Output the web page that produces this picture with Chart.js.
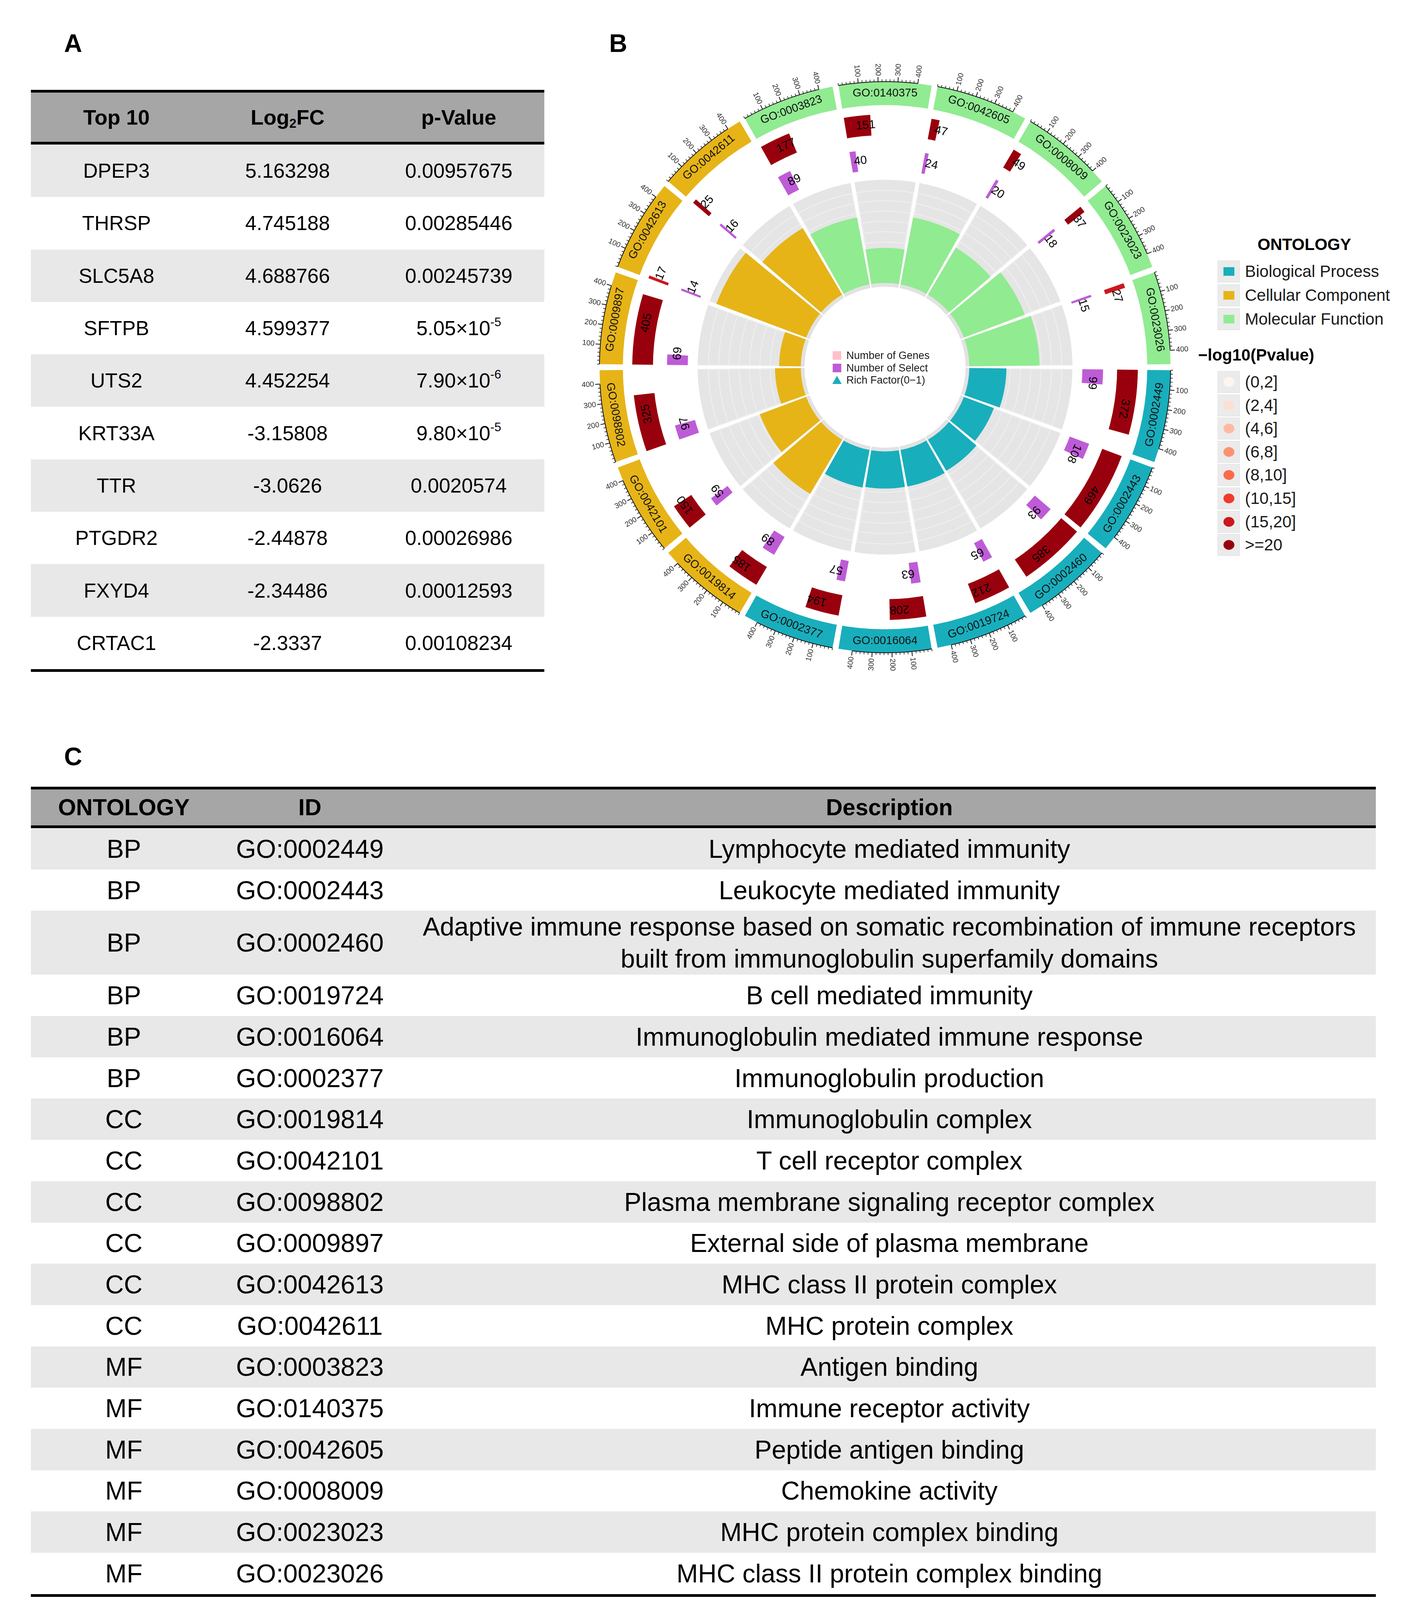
<!DOCTYPE html>
<html>
<head>
<meta charset="utf-8">
<script src="https://cdn.jsdelivr.net/npm/chart.js@4.4.1/dist/chart.umd.min.js"></script>
<style>
  html,body{margin:0;padding:0;background:#fff;}
  body{width:3611px;height:4162px;position:relative;overflow:hidden;font-family:"Liberation Sans",Arial,Helvetica,sans-serif;color:#000;}
  .abs{position:absolute;}
  .panel{position:absolute;font-weight:bold;font-size:64px;line-height:64px;}
  .rule{height:7px;background:#000;}
  .row{display:flex;align-items:center;}
  .row>div{flex:0 0 auto;text-align:center;}
  .tA{position:absolute;left:79px;top:230px;width:1314px;}
  .tA .hdr{font-weight:bold;font-size:54px;background:#A6A6A6;height:126px;}
  .tA .body{font-size:52px;height:134.3px;}
  .tC{position:absolute;left:79px;top:2014px;width:3442px;}
  .tC .hdr{font-weight:bold;font-size:59px;background:#A6A6A6;height:92px;}
  .tC .body{font-size:66px;}
  .gray{background:#E8E8E8;}
  sup{font-size:0.6em;vertical-align:0.75em;line-height:0;}
  sub{font-size:0.6em;vertical-align:-0.25em;line-height:0;}
  .lg{position:absolute;white-space:nowrap;z-index:5;}
  .key{position:absolute;width:57px;height:56px;background:#EBEBEB;border:1px solid #DEDEDE;box-sizing:border-box;z-index:5;}
  .key span{position:absolute;left:50%;top:50%;transform:translate(-50%,-50%);}
</style>
</head>
<body>
<div class="panel" style="left:164px;top:79px;">A</div>
<div class="panel" style="left:1559px;top:79px;">B</div>
<div class="panel" style="left:164px;top:1905px;">C</div>

<div class="tA" id="tableA"></div>
<div class="tC" id="tableC"></div>

<div class="abs" style="left:1415px;top:90px;width:1700px;height:1700px;">
  <canvas id="circos" width="1700" height="1700"></canvas>
</div>

<div id="legends"></div>

<script>
// ---------------- DATA ----------------
const goIds = ['GO:0002449','GO:0002443','GO:0002460','GO:0019724','GO:0016064','GO:0002377',
               'GO:0019814','GO:0042101','GO:0098802','GO:0009897','GO:0042613','GO:0042611',
               'GO:0003823','GO:0140375','GO:0042605','GO:0008009','GO:0023023','GO:0023026'];
const ontology = ['BP','BP','BP','BP','BP','BP','CC','CC','CC','CC','CC','CC','MF','MF','MF','MF','MF','MF'];
const geneCounts   = [372,469,385,212,208,194,185,150,325,405,17,25,177,151,47,49,37,27];
const selectCounts = [99,108,93,65,63,57,89,59,97,69,14,16,89,40,24,20,18,15];
const richFactor   = [0.36,0.31,0.35,0.36,0.36,0.37,0.61,0.48,0.25,0.21,0.93,0.75,0.66,0.34,0.66,0.53,0.63,0.68];
const negLog10P    = [45,44,40,38,37,36,40,30,28,24,18,21,45,26,22,21,20.5,19];
const axisMajorTicks = [100,200,300,400];
const descriptions = ['Lymphocyte mediated immunity','Leukocyte mediated immunity',
  'Adaptive immune response based on somatic recombination of immune receptors<br>built from immunoglobulin superfamily domains',
  'B cell mediated immunity','Immunoglobulin mediated immune response','Immunoglobulin production',
  'Immunoglobulin complex','T cell receptor complex','Plasma membrane signaling receptor complex',
  'External side of plasma membrane','MHC class II protein complex','MHC protein complex',
  'Antigen binding','Immune receptor activity','Peptide antigen binding','Chemokine activity',
  'MHC protein complex binding','MHC class II protein complex binding'];
const topGenes = ['DPEP3','THRSP','SLC5A8','SFTPB','UTS2','KRT33A','TTR','PTGDR2','FXYD4','CRTAC1'];
const log2FC = ['5.163298','4.745188','4.688766','4.599377','4.452254','-3.15808','-3.0626','-2.44878','-2.34486','-2.3337'];
const pValues = ['0.00957675','0.00285446','0.00245739','5.05×10<sup>-5</sup>','7.90×10<sup>-6</sup>',
                 '9.80×10<sup>-5</sup>','0.0020574','0.00026986','0.00012593','0.00108234'];
const ontologyNames = ['Biological Process','Cellular Component','Molecular Function'];
const pBinLabels = ['(0,2]','(2,4]','(4,6]','(6,8]','(8,10]','(10,15]','(15,20]','>=20'];
const pBreaks = [2,4,6,8,10,15,20];

// ---------------- STYLE ----------------
const ontColor = {BP:'#19AEBC', CC:'#E6B417', MF:'#91EB91'};
const pColors = ['#FFF5F0','#FEE0D2','#FCBBA1','#FC9272','#FB6A4A','#EF3B2C','#CB181D','#99000D'];
const SELECT_COLOR = '#BD5CD6';
const TRANSPARENT = 'rgba(0,0,0,0)';
const FONT = '"Liberation Sans", Arial, sans-serif';

// ---------------- TABLES ----------------
(function(){
  const w = [438,438,438];
  let h = '<div class="rule"></div><div class="row hdr">' +
    ['Top 10','Log<sub>2</sub>FC','p-Value'].map((t,i)=>`<div style="width:${w[i]}px">${t}</div>`).join('') +
    '</div><div class="rule"></div>';
  topGenes.forEach((g,r)=>{
    h += `<div class="row body ${r%2===0?'gray':''}">` +
      [g,log2FC[r],pValues[r]].map((t,i)=>`<div style="width:${w[i]}px">${t}</div>`).join('') + '</div>';
  });
  h += '<div class="rule"></div>';
  document.getElementById('tableA').innerHTML = h;

  const wc = [476,476,2490];
  let c = '<div class="rule"></div><div class="row hdr">' +
    ['ONTOLOGY','ID','Description'].map((t,i)=>`<div style="width:${wc[i]}px">${t}</div>`).join('') +
    '</div><div class="rule"></div>';
  goIds.forEach((id,r)=>{
    const tall = descriptions[r].indexOf('<br>')>=0;
    c += `<div class="row body ${r%2===0?'gray':''}" style="height:${tall?164:105.7}px;line-height:${tall?82:70}px">` +
      [ontology[r],id,descriptions[r]].map((t,i)=>`<div style="width:${wc[i]}px">${t}</div>`).join('') + '</div>';
  });
  c += '<div class="rule"></div>';
  document.getElementById('tableC').innerHTML = c;
})();

// ---------------- LEGENDS (HTML) ----------------
(function(){
  let h = '';
  const cItems = [['Number of Genes','sq','#FFC0CB'],['Number of Select','sq',SELECT_COLOR],['Rich Factor(0\u22121)','tri',ontColor.BP]];
  cItems.forEach((it,k)=>{
    const cy = 910 + k*31.5;
    const sym = it[1]==='sq'
      ? `<span style="position:absolute;left:0;top:5px;width:22px;height:22px;background:${it[2]}"></span>`
      : `<span style="position:absolute;left:-1px;top:5px;width:0;height:0;border-left:12px solid transparent;border-right:12px solid transparent;border-bottom:21px solid ${it[2]}"></span>`;
    h += `<div class="lg" style="left:2131px;top:${cy-16}px;height:32px;line-height:32px;font-size:27px;color:#1a1a1a;">${sym}<span style="margin-left:35px">${it[0]}</span></div>`;
  });
  const LX = 3116;
  h += `<div class="lg" style="left:${LX+222}px;top:${626-24}px;transform:translateX(-50%);font-weight:bold;font-size:42px;line-height:48px;">ONTOLOGY</div>`;
  ['BP','CC','MF'].forEach((o,k)=>{
    const cy = 695 + k*61;
    h += `<div class="key" style="left:${LX}px;top:${cy-28}px;"><span style="width:28px;height:22px;background:${ontColor[o]}"></span></div>`;
    h += `<div class="lg" style="left:${LX+70}px;top:${cy-24}px;font-size:42px;line-height:48px;color:#1a1a1a;">${ontologyNames[k]}</div>`;
  });
  h += `<div class="lg" style="left:${LX-50}px;top:${909-24}px;font-weight:bold;font-size:42px;line-height:48px;">\u2212log10(Pvalue)</div>`;
  pBinLabels.forEach((t,k)=>{
    const cy = 978 + k*59.6;
    h += `<div class="key" style="left:${LX}px;top:${cy-28}px;"><span style="width:28px;height:25px;border-radius:50%;background:${pColors[k]}"></span></div>`;
    h += `<div class="lg" style="left:${LX+70}px;top:${cy-24}px;font-size:42px;line-height:48px;color:#1a1a1a;">${t}</div>`;
  });
  document.getElementById('legends').innerHTML = h;
})();

// ---------------- CIRCOS (Chart.js polarArea layers) ----------------
const N = goIds.length;
const SECTOR = 360 / N;
const GAP = 1.2;
const XMAX = 470;
const DPU = (SECTOR - GAP) / XMAX;   // degrees per count unit
const R = {ringOut:731, ringIn:671, t2Out:647, t2In:594, t3Out:558, t3In:505, t4Out:480, t4In:216, coreIn:206};
const R_SCALE_MAX = 850;
const LABEL_OFFSET = 45;

function pColor(v){ let i=0; while(i<pBreaks.length && v>pBreaks[i]) i++; return pColors[i]; }

function sectorLayer(valueFn, colorFn, extra){
  const data=[], angle=[], bg=[], bc=[];
  for(let i=0;i<N;i++){
    data.push(0); angle.push(GAP/2); bg.push(TRANSPARENT); bc.push(TRANSPARENT);
    data.push(valueFn(i)); angle.push(SECTOR-GAP); bg.push(colorFn(i)); bc.push(extra && extra.line ? extra.line : TRANSPARENT);
    data.push(0); angle.push(GAP/2); bg.push(TRANSPARENT); bc.push(TRANSPARENT);
  }
  return {data, angle, backgroundColor:bg, borderColor:bc, borderWidth: extra && extra.line ? 2 : 0, borderAlign:'inner'};
}
function countLayer(counts, outer, colorFn){
  const data=[], angle=[], bg=[];
  for(let i=0;i<N;i++){
    const a = counts[i]*DPU;
    data.push(0); angle.push(GAP/2); bg.push(TRANSPARENT);
    data.push(outer); angle.push(a); bg.push(colorFn(i));
    data.push(0); angle.push(SECTOR-GAP/2-a); bg.push(TRANSPARENT);
  }
  return {data, angle, backgroundColor:bg, borderWidth:0};
}
function disk(r, color){ return {data:[r], angle:[360], backgroundColor:[color], borderWidth:0}; }

const layers = [];   // bottom -> top
layers.push(sectorLayer(()=>R.ringOut, i=>ontColor[ontology[i]]));
layers.push(disk(R.ringIn,'#ffffff'));
layers.push(countLayer(geneCounts, R.t2Out, i=>pColor(negLog10P[i])));
layers.push(disk(R.t2In,'#ffffff'));
layers.push(countLayer(selectCounts, R.t3Out, ()=>SELECT_COLOR));
layers.push(disk(R.t3In,'#ffffff'));
layers.push(sectorLayer(()=>R.t4Out, ()=>'#E5E5E5'));
for(let k=1;k<=9;k++){
  layers.push(sectorLayer(()=>R.t4In + k/10*(R.t4Out-R.t4In), ()=>TRANSPARENT, {line:'#EFEFEF'}));
}
layers.push(sectorLayer(i=>R.t4In + richFactor[i]*(R.t4Out-R.t4In), i=>ontColor[ontology[i]]));
layers.push(sectorLayer(()=>R.t4In, ()=>'#E2E2E2'));
layers.push(disk(R.coreIn,'#ffffff'));
const datasets = layers.slice().reverse();   // dataset 0 is drawn on top

const labelPlugin = {
  id:'circosLabels',
  afterDatasetsDraw(chart){
    const sc = chart.scales.r, ctx = chart.ctx;
    const cx = sc.xCenter, cy = sc.yCenter;
    const d = v => sc.getDistanceFromCenterForValue(v);
    const rad = a => a*Math.PI/180;
    const theta = (i,u) => 90 + i*SECTOR + GAP/2 + u*DPU;   // degrees, clockwise from north
    const pt = (th, r) => ({x: cx + r*Math.cos(rad(th-90)), y: cy + r*Math.sin(rad(th-90))});
    ctx.save();
    // sector id labels
    ctx.fillStyle = '#111';
    ctx.font = `29px ${FONT}`;
    ctx.textAlign = 'center'; ctx.textBaseline = 'middle';
    for(let i=0;i<N;i++){
      const th = 90 + i*SECTOR + SECTOR/2;
      const p = pt(th, d((R.ringOut+R.ringIn)/2));
      const m = ((th%360)+360)%360;
      ctx.save(); ctx.translate(p.x,p.y);
      ctx.rotate(rad(m>90 && m<270 ? th+180 : th));
      ctx.fillText(goIds[i],0,0); ctx.restore();
    }
    // count labels
    ctx.font = `30px ${FONT}`; ctx.fillStyle = '#000';
    const countLabels = (counts, rMid) => {
      for(let i=0;i<N;i++){
        const th = theta(i, counts[i]/2 + LABEL_OFFSET);
        const p = pt(th, d(rMid));
        ctx.save(); ctx.translate(p.x,p.y); ctx.rotate(rad(th));
        ctx.fillText(String(counts[i]),0,0); ctx.restore();
      }
    };
    countLabels(geneCounts, (R.t2Out+R.t2In)/2);
    countLabels(selectCounts, (R.t3Out+R.t3In)/2);
    // axes on the outer ring
    const rAx = d(R.ringOut);
    ctx.strokeStyle = '#111'; ctx.lineWidth = 2;
    ctx.font = `19px ${FONT}`; ctx.fillStyle = '#2b2b2b';
    const maxTick = axisMajorTicks[axisMajorTicks.length-1];
    for(let i=0;i<N;i++){
      ctx.beginPath();
      ctx.lineWidth = 2;
      ctx.arc(cx, cy, rAx, rad(theta(i,0)-90), rad(theta(i,maxTick)-90));
      ctx.stroke();
      for(let u=0; u<=maxTick; u+=20){
        const major = axisMajorTicks.includes(u);
        const th = theta(i,u);
        const a = pt(th, rAx), b = pt(th, rAx + (major?12:6));
        ctx.beginPath(); ctx.moveTo(a.x,a.y); ctx.lineTo(b.x,b.y);
        ctx.lineWidth = major ? 2 : 1.5; ctx.stroke();
      }
      axisMajorTicks.forEach(u=>{
        const th = theta(i,u);
        const m = ((th%360)+360)%360;
        ctx.save(); ctx.translate(cx,cy); ctx.textBaseline='middle';
        if(m < 180){ ctx.rotate(rad(th-90)); ctx.textAlign='left'; ctx.fillText(String(u), rAx+15, 0); }
        else { ctx.rotate(rad(th+90)); ctx.textAlign='right'; ctx.fillText(String(u), -(rAx+15), 0); }
        ctx.restore();
      });
    }
    ctx.restore();
  }
};

new Chart(document.getElementById('circos'), {
  type:'polarArea',
  data:{labels:[], datasets},
  options:{
    responsive:false, animation:false, events:[],
    layout:{padding:0},
    plugins:{legend:{display:false}, tooltip:{enabled:false}},
    scales:{r:{min:0, max:R_SCALE_MAX, startAngle:90,
      ticks:{display:false}, grid:{display:false}, angleLines:{display:false}, pointLabels:{display:false}}}
  },
  plugins:[labelPlugin]
});
</script>
</body>
</html>
